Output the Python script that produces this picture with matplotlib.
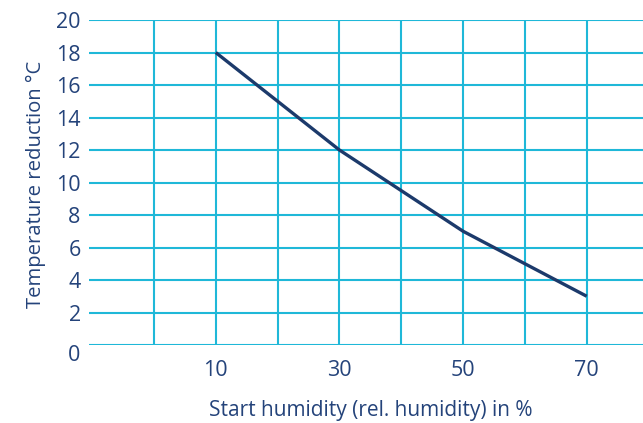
import matplotlib.pyplot as plt
import matplotlib.transforms as mtransforms

humidity = [10, 20, 30, 40, 50, 60, 70]
temp_reduction = [18, 15, 12, 9.5, 7, 5, 3]

x_grid = [0, 10, 20, 30, 40, 50, 60, 70]
x_labels = ["", "10", "", "30", "", "50", "", "70"]
y_ticks = [0, 2, 4, 6, 8, 10, 12, 14, 16, 18, 20]

text_col = "#24437a"
grid_col = "#1fb8d8"
line_col = "#1c3a6b"

plt.rcParams['font.family'] = ['Open Sans', 'DejaVu Sans']

fig = plt.figure(figsize=(6.43, 4.23), dpi=100)
ax = fig.add_axes([89 / 643, 78 / 423, 554 / 643, 325 / 423])

ax.plot(humidity, temp_reduction, color=line_col, lw=2.4, solid_capstyle='butt', zorder=3)

ax.set_xlim(-10.5, 79.1)
ax.set_ylim(0, 20)
ax.set_xticks(x_grid)
ax.set_xticklabels(x_labels)
ax.set_yticks(y_ticks)
ax.grid(True, color=grid_col, lw=1.5)
ax.set_axisbelow(True)
for s in ax.spines.values():
    s.set_visible(False)

ax.tick_params(length=0, labelsize=15.5, labelcolor=text_col)
ax.tick_params(axis='x', pad=11)
ax.tick_params(axis='y', pad=6)

# the 0 label sits a bit below its line
lbl0 = ax.get_yticklabels()[0]
lbl0.set_transform(lbl0.get_transform() + mtransforms.ScaledTranslation(0, -8 / 100, fig.dpi_scale_trans))

ax.set_xlabel("Start humidity (rel. humidity) in %", fontsize=15, color=text_col)
ax.set_ylabel("Temperature reduction °C", fontsize=14.6, color=text_col)
ax.xaxis.set_label_coords(281.7 / 554, -55 / 325)
ax.yaxis.set_label_coords(-43 / 554, 0.495)

fig.savefig("out.png", dpi=100)
